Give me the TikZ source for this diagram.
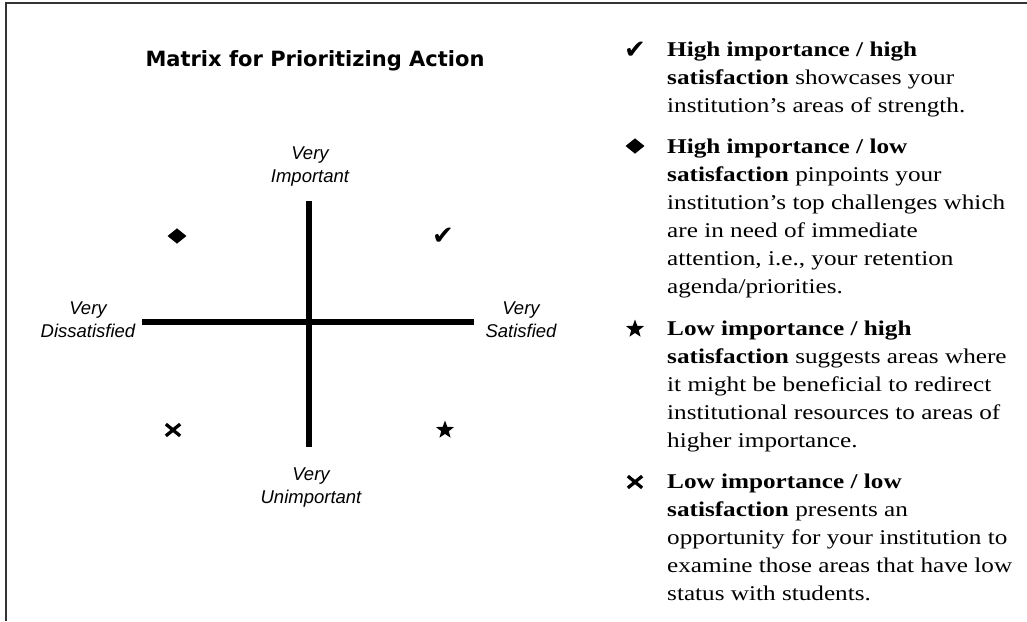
\documentclass[tikz,border=0pt]{standalone}
\usepackage{fontspec}
\usetikzlibrary{shapes.geometric,shapes.misc}
\setmainfont{Liberation Serif}[FakeStretch=1.2]
\newfontfamily\axisfont{Liberation Sans}
\newfontfamily\headfont{DejaVu Sans}
\newfontfamily\markfont{DejaVu Sans}
\begin{document}
\begin{tikzpicture}[x=1pt,y=-1pt,
  axisline/.style={line width=5.5pt,line cap=butt},
  axislabel/.style={font=\axisfont\itshape\fontsize{18.5}{23}\selectfont,
    align=center,inner sep=0pt,anchor=north},
  markcheck/.style={font=\markfont\fontsize{26}{26}\selectfont,inner sep=0pt},
  markdia/.style={diamond,fill=black,minimum width=19pt,minimum height=15.5pt,
    inner sep=0pt},
  markstar/.style={star,star points=5,star point ratio=2.4,fill=black,
    minimum size=19pt,inner sep=0pt},
  markcross/.style={cross out,draw=black,line width=3.3pt,minimum width=11pt,
    minimum height=8.5pt,inner sep=0pt},
  para/.style={font=\fontsize{21}{28}\selectfont,align=left,
    inner sep=0pt,anchor=north west},
  frameline/.style={line width=2pt,draw=black!80}
]
\useasboundingbox (0,0) rectangle (1027,621);

% page frame (left and top edges)
\draw[frameline] (6,621) -- (6,3) -- (1027,3);

% heading
\node[font=\headfont\bfseries\fontsize{21}{25}\selectfont,anchor=base,inner sep=0pt]
  (title) at (315,66.7) {Matrix for Prioritizing Action};

% axes
\coordinate (ytop) at (309,201);
\coordinate (ybot) at (309,447);
\coordinate (xleft) at (142,322);
\coordinate (xright) at (474,322);
\draw[axisline] (ytop) -- (ybot);
\draw[axisline] (xleft) -- (xright);

% axis labels (first baseline = node top + 16.1)
\node[axislabel] (imp)   at (310,142.9) {\strut Very\\Important};
\node[axislabel] (unimp) at (311,463.9) {\strut Very\\Unimportant};
\node[axislabel] (dis)   at (88,297.9)  {\strut Very\\Dissatisfied};
\node[axislabel] (sat)   at (521,297.9) {\strut Very\\Satisfied};

% quadrant markers
\node[markdia]   (qdia)   at (177,236) {};
\node[markcheck] (qcheck) at (443,236) {✔};
\node[markcross] (qcross) at (173,430) {};
\node[markstar]  (qstar)  at (445,430) {};

% legend markers
\node[markcheck] (lcheck) at (635,50)  {✔};
\node[markdia]   (ldia)   at (635,146) {};
\node[markstar]  (lstar)  at (635,329) {};
\node[markcross] (lcross) at (635,482) {};

% legend text (first baseline = node top + 19.6)
\node[para] (p1) at (667,36.4) {\strut\textbf{High importance / high}\\
  \textbf{satisfaction} showcases your\\
  institution’s areas of strength.};
\node[para] (p2) at (667,133.9) {\strut\textbf{High importance / low}\\
  \textbf{satisfaction} pinpoints your\\
  institution’s top challenges which\\
  are in need of immediate\\
  attention, i.e., your retention\\
  agenda/priorities.};
\node[para] (p3) at (667,315.4) {\strut\textbf{Low importance / high}\\
  \textbf{satisfaction} suggests areas where\\
  it might be beneficial to redirect\\
  institutional resources to areas of\\
  higher importance.};
\node[para] (p4) at (667,468.9) {\strut\textbf{Low importance / low}\\
  \textbf{satisfaction} presents an\\
  opportunity for your institution to\\
  examine those areas that have low\\
  status with students.};
\end{tikzpicture}
\end{document}
